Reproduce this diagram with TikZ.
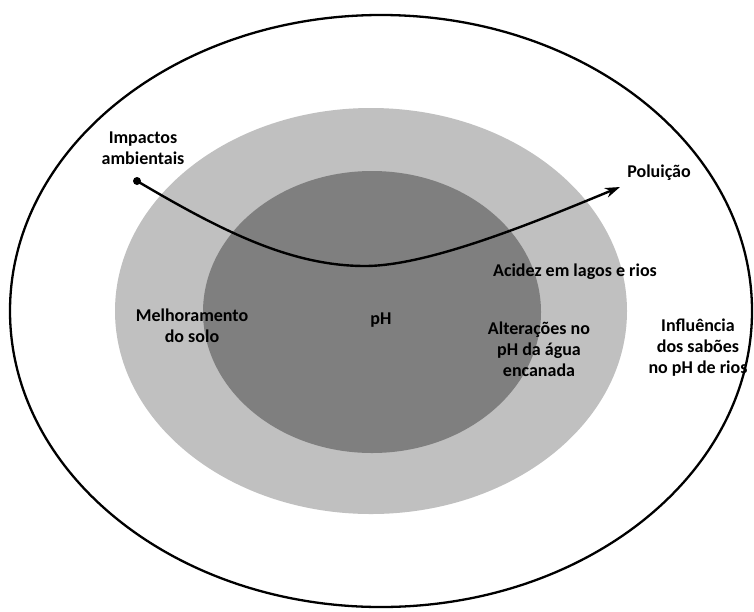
\documentclass[tikz,border=0pt]{standalone}
\usepackage{fontspec}
\setmainfont{Carlito}
\usetikzlibrary{arrows.meta}
\definecolor{lightg}{RGB}{192,192,192}
\definecolor{darkg}{RGB}{127,127,127}
\tikzset{
  lbl/.style={font=\fontsize{18}{21}\selectfont\bfseries, align=center, inner sep=0pt, text=black},
  ring/.style={draw=black, line width=2.3pt},
  flow/.style={line width=2.4pt, -{Stealth[length=15pt,width=10pt]}}
}
\begin{document}
\begin{tikzpicture}[x=1pt,y=-1pt]
\useasboundingbox (0,0) rectangle (754,611);
\fill[white] (0,0) rectangle (754,611);
\draw[ring] (381,311) ellipse [x radius=371pt, y radius=296pt];
\fill[lightg] (371,311) ellipse [x radius=256pt, y radius=203pt];
\fill[darkg] (372,312) ellipse [x radius=169pt, y radius=141pt];
\coordinate (s) at (137,181);
\coordinate (m) at (365,266);
\coordinate (e) at (620,187);
\fill (s) circle (4pt);
\draw[flow] (s) .. controls (220,230) and (290,266) .. (m) .. controls (430,266) and (540,220) .. (e);
\node[lbl] (imp) at (143,148) {Impactos\\ambientais};
\node[lbl] (pol) at (659,173) {Poluição};
\node[lbl] (aci) at (575,272) {Acidez em lagos e rios};
\node[lbl] (alt) at (539,349) {Alterações no\\pH da água\\encanada};
\node[lbl] (inf) at (698,348) {Influência\\dos sabões\\no pH de rios};
\node[lbl] (mel) at (192,326) {Melhoramento\\do solo};
\node[lbl] (ph) at (381,320) {pH};
\end{tikzpicture}
\end{document}
